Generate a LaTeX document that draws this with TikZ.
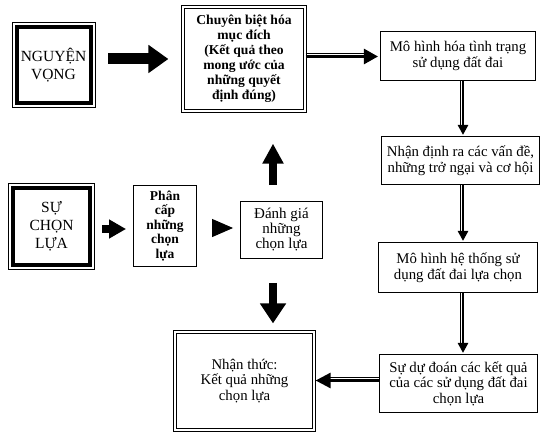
\documentclass[tikz,border=0pt]{standalone}
\usepackage{fontspec}
\setmainfont{Liberation Serif}
\usetikzlibrary{arrows.meta}
\begin{document}
\begin{tikzpicture}[x=1pt,y=1pt,
  txt/.style={font=\fontsize{14.8}{15.5}\selectfont},
  box/.style={draw, line width=1.1pt, inner sep=0pt, align=center, txt},
  dblbox/.style={draw, double, double distance=2pt, line width=0.8pt, inner sep=0pt, align=center, txt},
  heavybox/.style={draw, line width=1pt, inner sep=0pt, align=center, font=\fontsize{15.5}{18}\selectfont},
  dthin/.style={line width=0.9pt},
  dthick/.style={line width=2.6pt},
  bigarrow/.style={line width=#1},
]
\useasboundingbox (0,0) rectangle (551,437);

% nodes
\node[heavybox, minimum width=83pt, minimum height=85pt] (ngu) at (53.5,372) {NGUYỆN\\VỌNG};
\node[heavybox, minimum width=86pt, minimum height=86pt] (su) at (51.5,210.5) {SỰ\\CHỌN\\LỰA};
\draw[line width=4pt] ([shift={(5,5)}]ngu.south west) rectangle ([shift={(-5,-5)}]ngu.north east);
\draw[line width=4pt] ([shift={(5,5)}]su.south west) rectangle ([shift={(-5,-5)}]su.north east);

\node[dblbox, minimum width=122.4pt, minimum height=104.4pt, font=\bfseries\fontsize{13.6}{15}\selectfont] (cb) at (244,378)
  {Chuyên biệt hóa\\mục đích\\(Kết quả theo\\mong ước của\\những quyết\\định đúng)};
\node[dblbox, minimum width=139.4pt, minimum height=98.4pt] (nt) at (244.5,56)
  {Nhận thức:\\Kết quả những\\chọn lựa};

\node[box, minimum width=155pt, minimum height=49pt] (m1) at (458,381) {Mô hình hóa tình trạng\\sử dụng đất đai};
\node[box, minimum width=158pt, minimum height=48pt] (n2) at (460.5,276.5) {Nhận định ra các vấn đề,\\những trở ngại và cơ hội};
\node[box, minimum width=159pt, minimum height=50pt] (m3) at (458,169.5) {Mô hình hệ thống sử\\dụng đất đai lựa chọn};
\node[box, minimum width=158pt, minimum height=58pt] (s4) at (458.5,53.5) {Sự dự đoán các kết quả\\của các sử dụng đất đai\\chọn lựa};

\node[box, line width=0.9pt, minimum width=63pt, minimum height=81pt, font=\bfseries\fontsize{13.5}{14.5}\selectfont] (pc) at (165,211)
  {Phân\\cấp\\những\\chọn\\lựa};
\node[box, line width=0.9pt, minimum width=82pt, minimum height=57pt, font=\fontsize{15}{15}\selectfont] (dg) at (281.5,207)
  {Đánh giá\\những\\chọn lựa};

% big arrows
\draw[bigarrow=11pt, -{Triangle[length=20pt,width=27pt]}, shorten <=12.5pt, shorten >=14pt]
  (ngu.east |- cb.west) -- (cb.west);
\draw[bigarrow=8pt, -{Triangle[length=17pt,width=18pt]}, shorten <=7pt, shorten >=7pt]
  ([yshift=-2.5pt]su.east) -- ([yshift=-2.5pt]su.east -| pc.west);
\draw[bigarrow=1pt, -{Triangle[length=21pt,width=18pt]}, shorten <=15pt, shorten >=7pt]
  ([yshift=-2pt]pc.east) -- ([yshift=-2pt]pc.east -| dg.west);
\coordinate (ax) at (273,0);
\draw[bigarrow=8pt, -{Triangle[length=20pt,width=20pt]}, shorten <=16pt, shorten >=32pt]
  (ax |- dg.north) -- (ax |- cb.south);
\draw[bigarrow=8pt, -{Triangle[length=20pt,width=25pt]}, shorten <=24pt, shorten >=8pt]
  (ax |- dg.south) -- (ax |- nt.north);

% double connectors
\draw[dthick, -{Triangle[length=14pt,width=15pt]}, shorten >=2pt]
  ([yshift=-0.5pt]cb.east |- m1.west) -- ([yshift=-0.5pt]m1.west);
\draw[dthin, shorten >=15pt]
  ([yshift=2.8pt]cb.east |- m1.west) -- ([yshift=2.8pt]m1.west);

\coordinate (col) at (462.5,0);
\foreach \a/\b in {m1/n2, n2/m3, m3/s4}{
  \draw[dthick, -{Triangle[length=10pt,width=10pt]}, shorten >=1pt]
    ([xshift=0.5pt]col |- \a.south) -- ([xshift=0.5pt]col |- \b.north);
  \draw[dthin, shorten >=10pt]
    ([xshift=-2.5pt]col |- \a.south) -- ([xshift=-2.5pt]col |- \b.north);
}

\draw[dthick, -{Triangle[length=15pt,width=15pt]}, shorten >=1pt]
  ([yshift=0.5pt]s4.west |- nt.east) -- ([yshift=0.5pt]nt.east);
\draw[dthin, shorten >=15pt]
  ([yshift=3.8pt]s4.west |- nt.east) -- ([yshift=3.8pt]nt.east);
\end{tikzpicture}
\end{document}
